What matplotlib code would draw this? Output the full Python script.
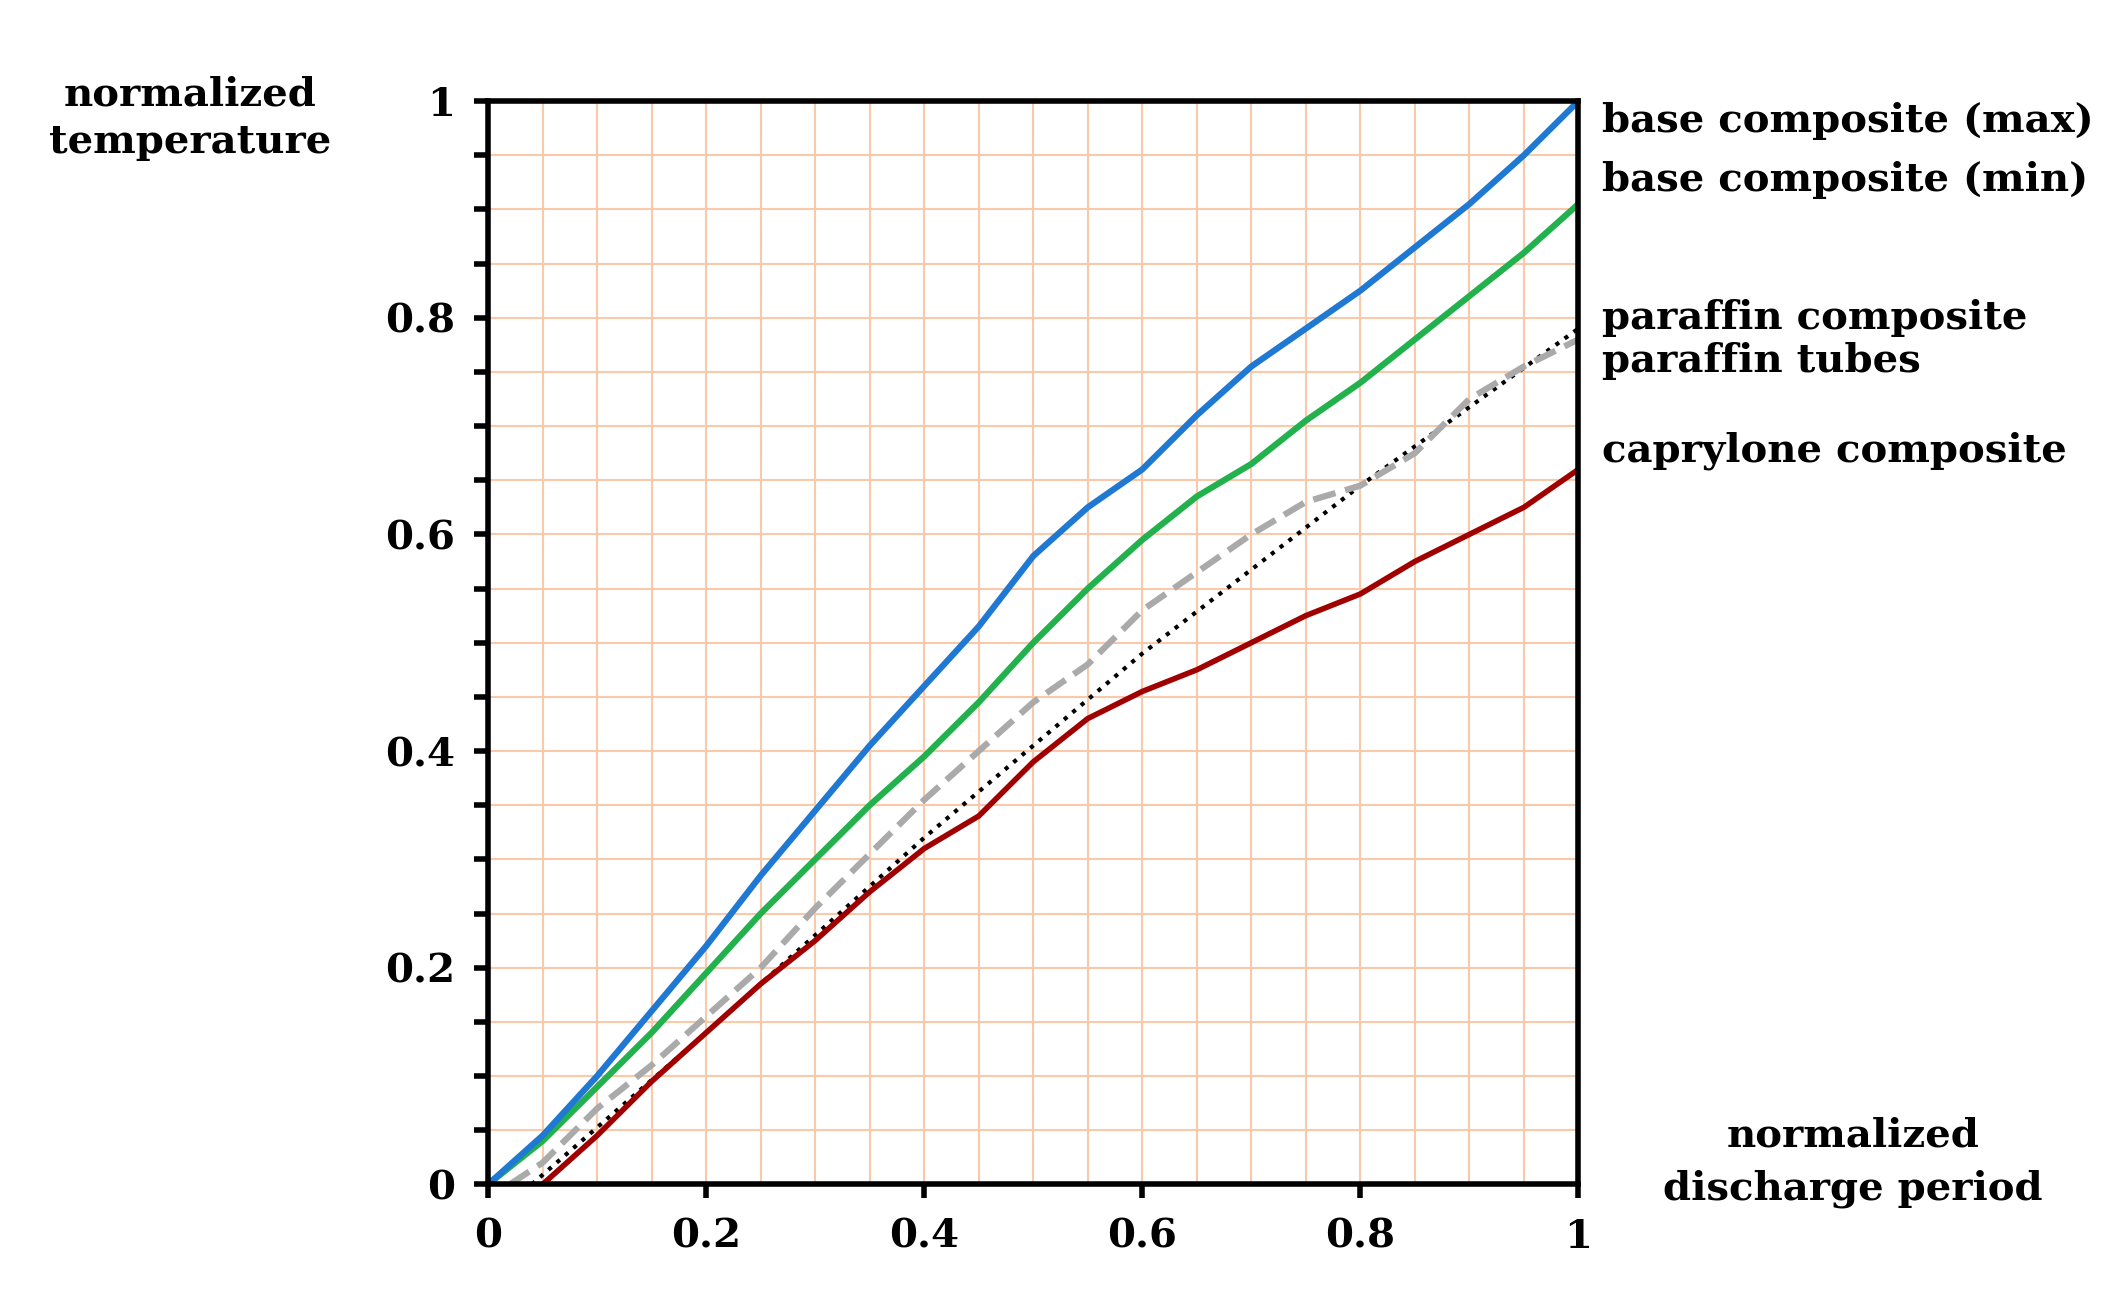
import matplotlib
matplotlib.use("Agg")
import matplotlib.pyplot as plt
import numpy as np

bx=[0,0.05,0.1,0.15,0.2,0.25,0.3,0.35,0.4,0.45,0.5,0.55,0.6,0.65,0.7,0.75,0.8,0.85,0.9,0.95,1.0]
by=[0,0.045,0.1,0.16,0.22,0.285,0.345,0.405,0.46,0.515,0.58,0.625,0.66,0.71,0.755,0.79,0.825,0.865,0.905,0.95,1.0]
gx=bx
gy=[0,0.04,0.09,0.14,0.195,0.25,0.3,0.35,0.395,0.445,0.5,0.55,0.595,0.635,0.665,0.705,0.74,0.78,0.82,0.86,0.905]
px=[0.02,0.05,0.1,0.15,0.2,0.25,0.3,0.35,0.4,0.45,0.5,0.55,0.6,0.65,0.7,0.75,0.8,0.85,0.9,0.95,1.0]
py=[0,0.02,0.07,0.11,0.155,0.2,0.255,0.305,0.355,0.4,0.445,0.48,0.53,0.565,0.6,0.63,0.645,0.675,0.725,0.755,0.78]
tx=[0.04,0.2,0.4,0.6,0.8,1.0]
ty=[0.0,0.14,0.32,0.49,0.645,0.79]
rx=[0.05,0.1,0.15,0.2,0.25,0.3,0.35,0.4,0.45,0.5,0.55,0.6,0.65,0.7,0.75,0.8,0.85,0.9,0.95,1.0]
ry=[0,0.045,0.095,0.14,0.185,0.225,0.27,0.31,0.34,0.39,0.43,0.455,0.475,0.5,0.525,0.545,0.575,0.6,0.625,0.66]

fig=plt.figure(figsize=(21.13,13.13),dpi=100)
ax=fig.add_axes([0.231,0.098,0.516,0.825])
fs=29
font=dict(family='DejaVu Serif',weight='bold',size=fs)
ax.set_xlim(0,1); ax.set_ylim(0,1)
ax.set_xticks(np.arange(0,1.01,0.05),minor=True)
ax.set_yticks(np.arange(0,1.01,0.05),minor=True)
ax.set_xticks([0,0.2,0.4,0.6,0.8,1]); ax.set_yticks([0,0.2,0.4,0.6,0.8,1])
ax.set_xticklabels(['0','0.2','0.4','0.6','0.8','1'],fontdict=font)
ax.set_yticklabels(['0','0.2','0.4','0.6','0.8','1'],fontdict=font)
ax.grid(True,which='both',color='#f9c9a9',lw=1.5)
ax.set_axisbelow(True)
for s in ax.spines.values(): s.set_linewidth(4)
ax.tick_params(which='both',direction='out',width=4,length=10,pad=14)
ax.tick_params(axis='x',which='minor',length=0)
ax.plot(tx,ty,color='black',ls=':',lw=3)
ax.plot(px,py,color='#aaaaaa',ls='--',lw=4.5)
ax.plot(rx,ry,color='#a00000',lw=4)
ax.plot(gx,gy,color='#22b14c',lw=4.5)
ax.plot(bx,by,color='#1f78d1',lw=4.5)
fig.text(0.09,0.91,'normalized\ntemperature',ha='center',va='center',linespacing=1.3,**font)
fig.text(0.877,0.115,'normalized\ndischarge period',ha='center',va='center',linespacing=1.5,**font)
labels=[('base composite (max)',0.982),('base composite (min)',0.927),('paraffin composite',0.8),('paraffin tubes',0.76),('caprylone composite',0.677)]
for t,y in labels:
    ax.text(1.022,y,t,transform=ax.transAxes,ha='left',va='center',**font)
fig.savefig('out.png')
